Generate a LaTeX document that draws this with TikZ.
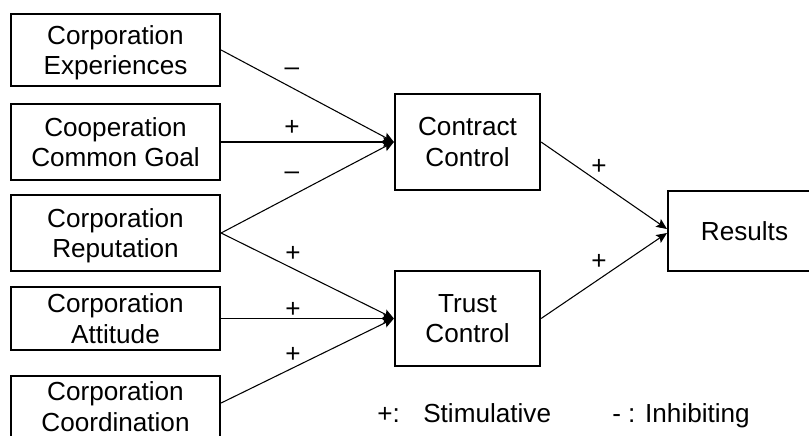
\documentclass[tikz,border=0pt]{standalone}
\usepackage{fontspec}
\setmainfont{Liberation Sans}
\usetikzlibrary{arrows.meta,calc}

\begin{document}
\begin{tikzpicture}[x=0.75pt,y=-0.75pt,
  box/.style={draw, line width=1.4pt, align=center, inner sep=0pt, text depth=0pt,
    font=\fontsize{19.6}{23}\selectfont},
  link/.style={line width=0.8pt, -{Stealth[length=8pt,width=7pt,inset=1.5pt]}},
  sign/.style={font=\fontsize{19.6}{22.5}\selectfont, inner sep=0pt},
  legend/.style={font=\fontsize{19.6}{22.5}\selectfont, inner sep=0pt, anchor=base west}]
\useasboundingbox (0,0) rectangle (809,435);

% factor boxes on the left
\node[box, minimum width=157pt, minimum height=54pt] (exp) at (115.5,50) {Corporation\\Experiences};
\node[box, minimum width=157pt, minimum height=57pt] (goal) at (115.5,142) {Cooperation\\Common Goal};
\node[box, minimum width=157pt, minimum height=57pt] (rep) at (115.5,233) {Corporation\\Reputation};
\node[box, minimum width=157pt, minimum height=47.5pt] (att) at (115.5,318.5) {Corporation\\Attitude};
\node[box, minimum width=157pt, minimum height=46pt, anchor=north] (coord) at (115.5,375) {Corporation\\Coordination};

% control boxes
\node[box, minimum width=109pt, minimum height=72pt] (contract) at (467.5,142) {Contract\\Control};
\node[box, minimum width=109pt, minimum height=71pt] (trust) at (467.5,318.5) {Trust\\Control};

% outcome box, running past the right margin
\node[box, anchor=west, align=left, text width=200pt, inner xsep=24.75pt, minimum height=60pt] (res) at (667,231) {Results};

% connectors
\draw[link] (exp.east) -- (contract.west);
\draw[link] (goal.east) -- (contract.west);
\draw[link] (rep.east) -- (contract.west);
\draw[link] (rep.east) -- (trust.west);
\draw[link] (att.east) -- (trust.west);
\coordinate (coordout) at ($(coord.north east)+(0,28)$);
\draw[link] (coordout) -- (trust.west);
\draw[link] (contract.east) -- ($(res.west)+(0,-2)$);
\draw[link] (trust.east) -- ($(res.west)+(0,2)$);

% effect signs
\node[sign] (s1) at (292,72) {--};
\node[sign] (s2) at (292,128) {+};
\node[sign] (s3) at (292,176) {--};
\node[sign] (s4) at (293,254) {+};
\node[sign] (s5) at (293,310) {+};
\node[sign] (s6) at (293,355) {+};
\node[sign] (s7) at (599,167) {+};
\node[sign] (s8) at (599,262) {+};

% legend
\node[legend] (lg1) at (377,422) {+:};
\node[legend] (lg2) at (423,422) {Stimulative};
\node[legend] (lg3) at (612,422) {- : Inhibiting};
\end{tikzpicture}
\end{document}
